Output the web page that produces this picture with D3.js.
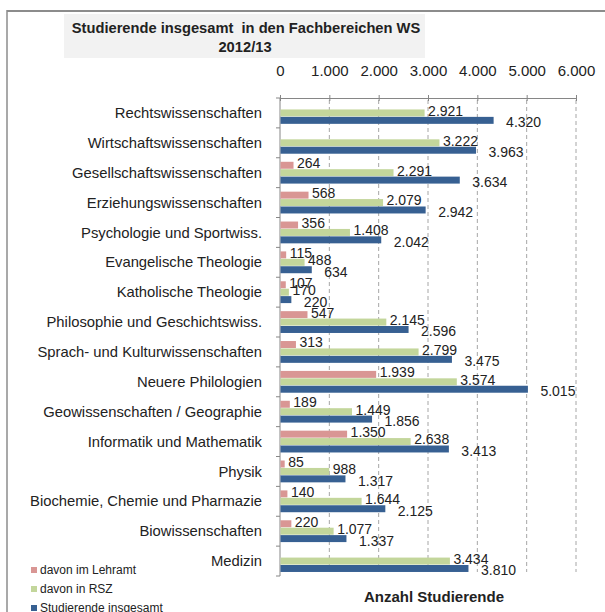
<!DOCTYPE html>
<html>
<head>
<meta charset="utf-8">
<script src="https://cdn.jsdelivr.net/npm/d3@7"></script>
<style>
  body { margin: 0; background: #fff; }
  text { font-family: "Liberation Sans", Arial, sans-serif; fill: #222; }
</style>
</head>
<body>
<div class="chart"></div>
<script>
// Fachbereiche, oben nach unten
var categories = ["Rechtswissenschaften", "Wirtschaftswissenschaften", "Gesellschaftswissenschaften",
  "Erziehungswissenschaften", "Psychologie und Sportwiss.", "Evangelische Theologie",
  "Katholische Theologie", "Philosophie und Geschichtswiss.", "Sprach- und Kulturwissenschaften",
  "Neuere Philologien", "Geowissenschaften / Geographie", "Informatik und Mathematik",
  "Physik", "Biochemie, Chemie und Pharmazie", "Biowissenschaften", "Medizin"];

var lehramt = [null, null, 264, 568, 356, 115, 107, 547, 313, 1939, 189, 1350, 85, 140, 220, null];
var rsz     = [2921, 3222, 2291, 2079, 1408, 488, 170, 2145, 2799, 3574, 1449, 2638, 988, 1644, 1077, 3434];
var gesamt  = [4320, 3963, 3634, 2942, 2042, 634, 220, 2596, 3475, 5015, 1856, 3413, 1317, 2125, 1337, 3810];

var seriesNames = ["davon im Lehramt", "davon in RSZ", "Studierende insgesamt"];
var tickValues = [0, 1000, 2000, 3000, 4000, 5000, 6000];

var colors = ["#d99694", "#c3d69b", "#376092"];
var fmt = function(v){ return d3.format(",")(v).replace(/,/g, "."); };

var svg = d3.select(".chart").append("svg")
            .attr("width", 605)
            .attr("height", 612);

// frame
svg.append("line").attr("x1", 7).attr("x2", 605).attr("y1", 11).attr("y2", 11)
   .style("stroke", "#8c8c8c").style("stroke-width", 2);
svg.append("line").attr("x1", 7).attr("x2", 7).attr("y1", 10).attr("y2", 612)
   .style("stroke", "#8c8c8c").style("stroke-width", 1.5);

// title
svg.append("rect")
   .attr("x", 64).attr("y", 14)
   .attr("width", 361).attr("height", 44)
   .style("fill", "#f2f2f2");
svg.append("text")
   .attr("x", 246).attr("y", 33)
   .attr("text-anchor", "middle")
   .style("font-size", "14.7px").style("font-weight", "bold")
   .style("white-space", "pre")
   .text("Studierende insgesamt  in den Fachbereichen WS");
svg.append("text")
   .attr("x", 245).attr("y", 52)
   .attr("text-anchor", "middle")
   .style("font-size", "14.7px").style("font-weight", "bold")
   .text("2012/13");

var x = d3.scaleLinear().domain([0, 6000]).range([280, 576]);
var y = d3.scaleBand().domain(categories).range([98, 576])
          .paddingInner(0.24).paddingOuter(0.12);
var ySub = d3.scaleBand().domain(seriesNames).range([0, y.bandwidth()]).padding(0.06);

// grid
svg.selectAll(".grid").data(tickValues.slice(1))
   .enter().append("line")
   .attr("class", "grid")
   .attr("x1", function(d){ return x(d); })
   .attr("x2", function(d){ return x(d); })
   .attr("y1", 100).attr("y2", 572)
   .style("stroke", "#a6a6a6")
   .style("stroke-dasharray", "4,3");

// top axis
var axisTop = d3.axisTop(x).tickValues(tickValues).tickFormat(fmt)
                .tickSizeInner(3).tickSizeOuter(0).tickPadding(19);
var gx = svg.append("g").attr("transform", "translate(0,98)").call(axisTop);
gx.selectAll("text").style("font-size", "15px").style("fill", "#222")
  .style("font-family", "Liberation Sans, Arial, sans-serif");
gx.select(".domain").style("stroke", "#868686");
gx.selectAll(".tick line").style("stroke", "#868686");
svg.append("g").attr("transform", "translate(0,98)")
   .call(d3.axisBottom(x).tickValues(tickValues).tickSize(3).tickFormat(""))
   .call(function(g){ g.select(".domain").remove(); })
   .selectAll(".tick line").style("stroke", "#868686");

// y axis line + ticks at category boundaries
svg.append("line").attr("x1", 280).attr("x2", 280).attr("y1", 98).attr("y2", 576)
   .style("stroke", "#868686");
var bounds = categories.map(function(c){ return y(c) - y.step() * y.paddingOuter(); });
bounds.push(576);
svg.selectAll(".ytick").data(bounds)
   .enter().append("line")
   .attr("x1", 276).attr("x2", 280)
   .attr("y1", function(d){ return d; }).attr("y2", function(d){ return d; })
   .style("stroke", "#868686");

// category labels
svg.selectAll(".cat").data(categories)
   .enter().append("text")
   .attr("x", 262)
   .attr("y", function(d){ return y(d) + y.bandwidth() / 2; })
   .attr("dy", "0.35em")
   .attr("text-anchor", "end")
   .style("font-size", "14.8px")
   .text(function(d){ return d; });

// bars
var seriesData = [lehramt, rsz, gesamt];
var labelDx = [4, 4, 13];
var labelDy = [-2, -2, 2];

seriesData.forEach(function(vals, si){
  var rows = categories.map(function(c, i){ return {cat: c, v: vals[i]}; })
                       .filter(function(d){ return d.v != null; });
  var g = svg.append("g");
  g.selectAll("rect").data(rows)
   .enter().append("rect")
   .attr("x", x(0) + 0.5)
   .attr("y", function(d){ return y(d.cat) + ySub(seriesNames[si]); })
   .attr("width", function(d){ return x(d.v) - x(0); })
   .attr("height", ySub.bandwidth())
   .style("fill", colors[si]);
  g.selectAll("text").data(rows)
   .enter().append("text")
   .attr("x", function(d){ return x(d.v) + labelDx[si]; })
   .attr("y", function(d){ return y(d.cat) + ySub(seriesNames[si]) + ySub.bandwidth() / 2 + labelDy[si]; })
   .attr("dy", "0.35em")
   .style("font-size", "14px")
   .text(function(d){ return fmt(d.v); });
});

// x-axis title
svg.append("text")
   .attr("x", 434).attr("y", 602)
   .attr("text-anchor", "middle")
   .style("font-size", "15px").style("font-weight", "bold")
   .text("Anzahl Studierende");

// legend
seriesNames.forEach(function(name, i){
  svg.append("rect")
     .attr("x", 31).attr("y", 567 + i * 19)
     .attr("width", 6).attr("height", 6)
     .style("fill", colors[i]);
  svg.append("text")
     .attr("x", 40).attr("y", 570 + i * 19)
     .attr("dy", "0.35em")
     .style("font-size", "12px")
     .text(name);
});
</script>
</body>
</html>
